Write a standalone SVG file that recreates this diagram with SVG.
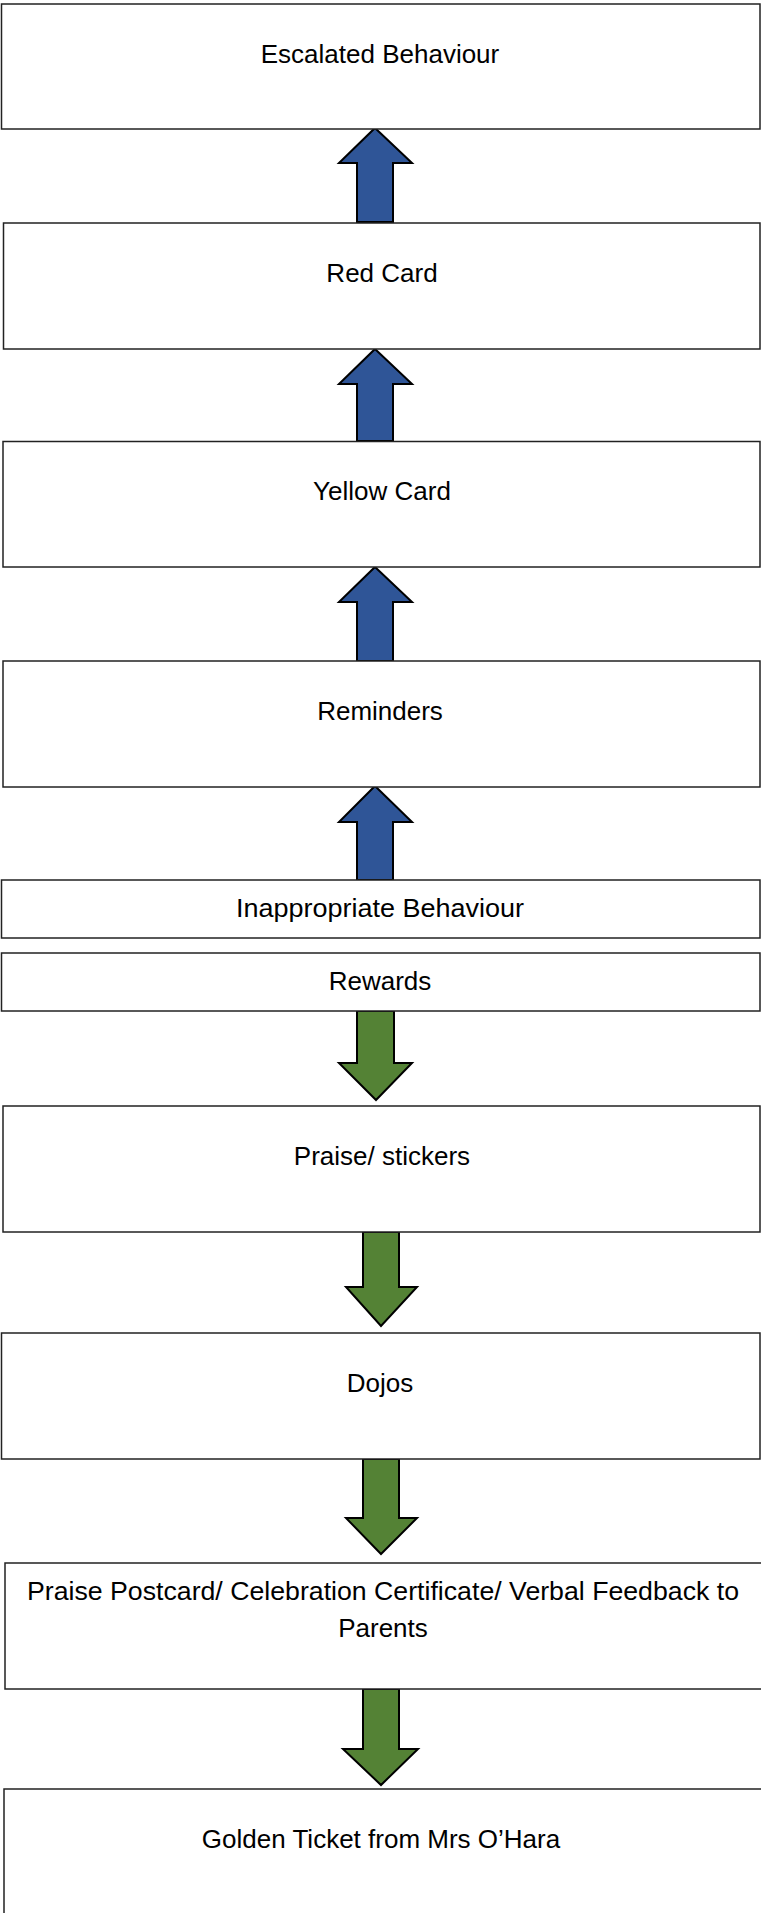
<svg xmlns="http://www.w3.org/2000/svg" width="761" height="1913" viewBox="0 0 761 1913">
<style>
.box{fill:#fff;stroke:#222;stroke-width:1.5}
.lbl{font-family:"Liberation Sans",Arial,sans-serif;font-size:26px;fill:#000;text-anchor:middle}
.up{fill:#2F5597;stroke:#000;stroke-width:2;stroke-linejoin:miter}
.down{fill:#548235;stroke:#000;stroke-width:2;stroke-linejoin:miter}
</style>
<rect width="761" height="1913" fill="#fff"/>
<g id="connectors">
<path class="up" d="M375,128 L412,163 L393,163 L393,222 L357,222 L357,163 L339,163 Z"/>
<path class="up" d="M375,349 L412,384 L393,384 L393,441 L357,441 L357,384 L339,384 Z"/>
<path class="up" d="M375,567 L412,602 L393,602 L393,661 L357,661 L357,602 L339,602 Z"/>
<path class="up" d="M375,786 L412,822 L393,822 L393,880 L357,880 L357,822 L339,822 Z"/>
<path class="down" d="M357,1011 L394,1011 L394,1063 L412,1063 L376,1100 L339,1063 L357,1063 Z"/>
<path class="down" d="M363,1232 L399,1232 L399,1287 L417,1287 L381,1326 L346,1287 L363,1287 Z"/>
<path class="down" d="M363,1459 L399,1459 L399,1518 L417,1518 L381,1554 L346,1518 L363,1518 Z"/>
<path class="down" d="M363,1689 L399,1689 L399,1749 L418,1749 L381,1785 L343,1749 L363,1749 Z"/>
</g>
<g id="escalated">
<rect class="box" x="1.5" y="4" width="758.5" height="125"/>
<text class="lbl" x="380" y="63">Escalated Behaviour</text>
</g>
<g id="red-card">
<rect class="box" x="3.5" y="223" width="756.5" height="126"/>
<text class="lbl" x="382" y="282">Red Card</text>
</g>
<g id="yellow-card">
<rect class="box" x="3" y="441.5" width="757" height="125.5"/>
<text class="lbl" x="382" y="500">Yellow Card</text>
</g>
<g id="reminders">
<rect class="box" x="3" y="661" width="757" height="126"/>
<text class="lbl" x="380" y="720">Reminders</text>
</g>
<g id="inappropriate">
<rect class="box" x="1.5" y="880" width="758.5" height="58"/>
<text class="lbl" x="380" y="917" textLength="288" lengthAdjust="spacingAndGlyphs">Inappropriate Behaviour</text>
</g>
<g id="rewards">
<rect class="box" x="1.5" y="953" width="758.5" height="58"/>
<text class="lbl" x="380" y="990">Rewards</text>
</g>
<g id="praise-stickers">
<rect class="box" x="3" y="1106" width="757" height="126"/>
<text class="lbl" x="382" y="1165">Praise/ stickers</text>
</g>
<g id="dojos">
<rect class="box" x="1.5" y="1333" width="758.5" height="126"/>
<text class="lbl" x="380" y="1392">Dojos</text>
</g>
<g id="postcard">
<rect class="box" x="5" y="1563" width="760" height="126"/>
<text class="lbl" x="383" y="1600" textLength="712" lengthAdjust="spacingAndGlyphs">Praise Postcard/ Celebration Certificate/ Verbal Feedback to</text>
<text class="lbl" x="383" y="1637">Parents</text>
</g>
<g id="golden-ticket">
<rect class="box" x="4" y="1789" width="761" height="130"/>
<text class="lbl" x="381" y="1848">Golden Ticket from Mrs O’Hara</text>
</g>
</svg>
